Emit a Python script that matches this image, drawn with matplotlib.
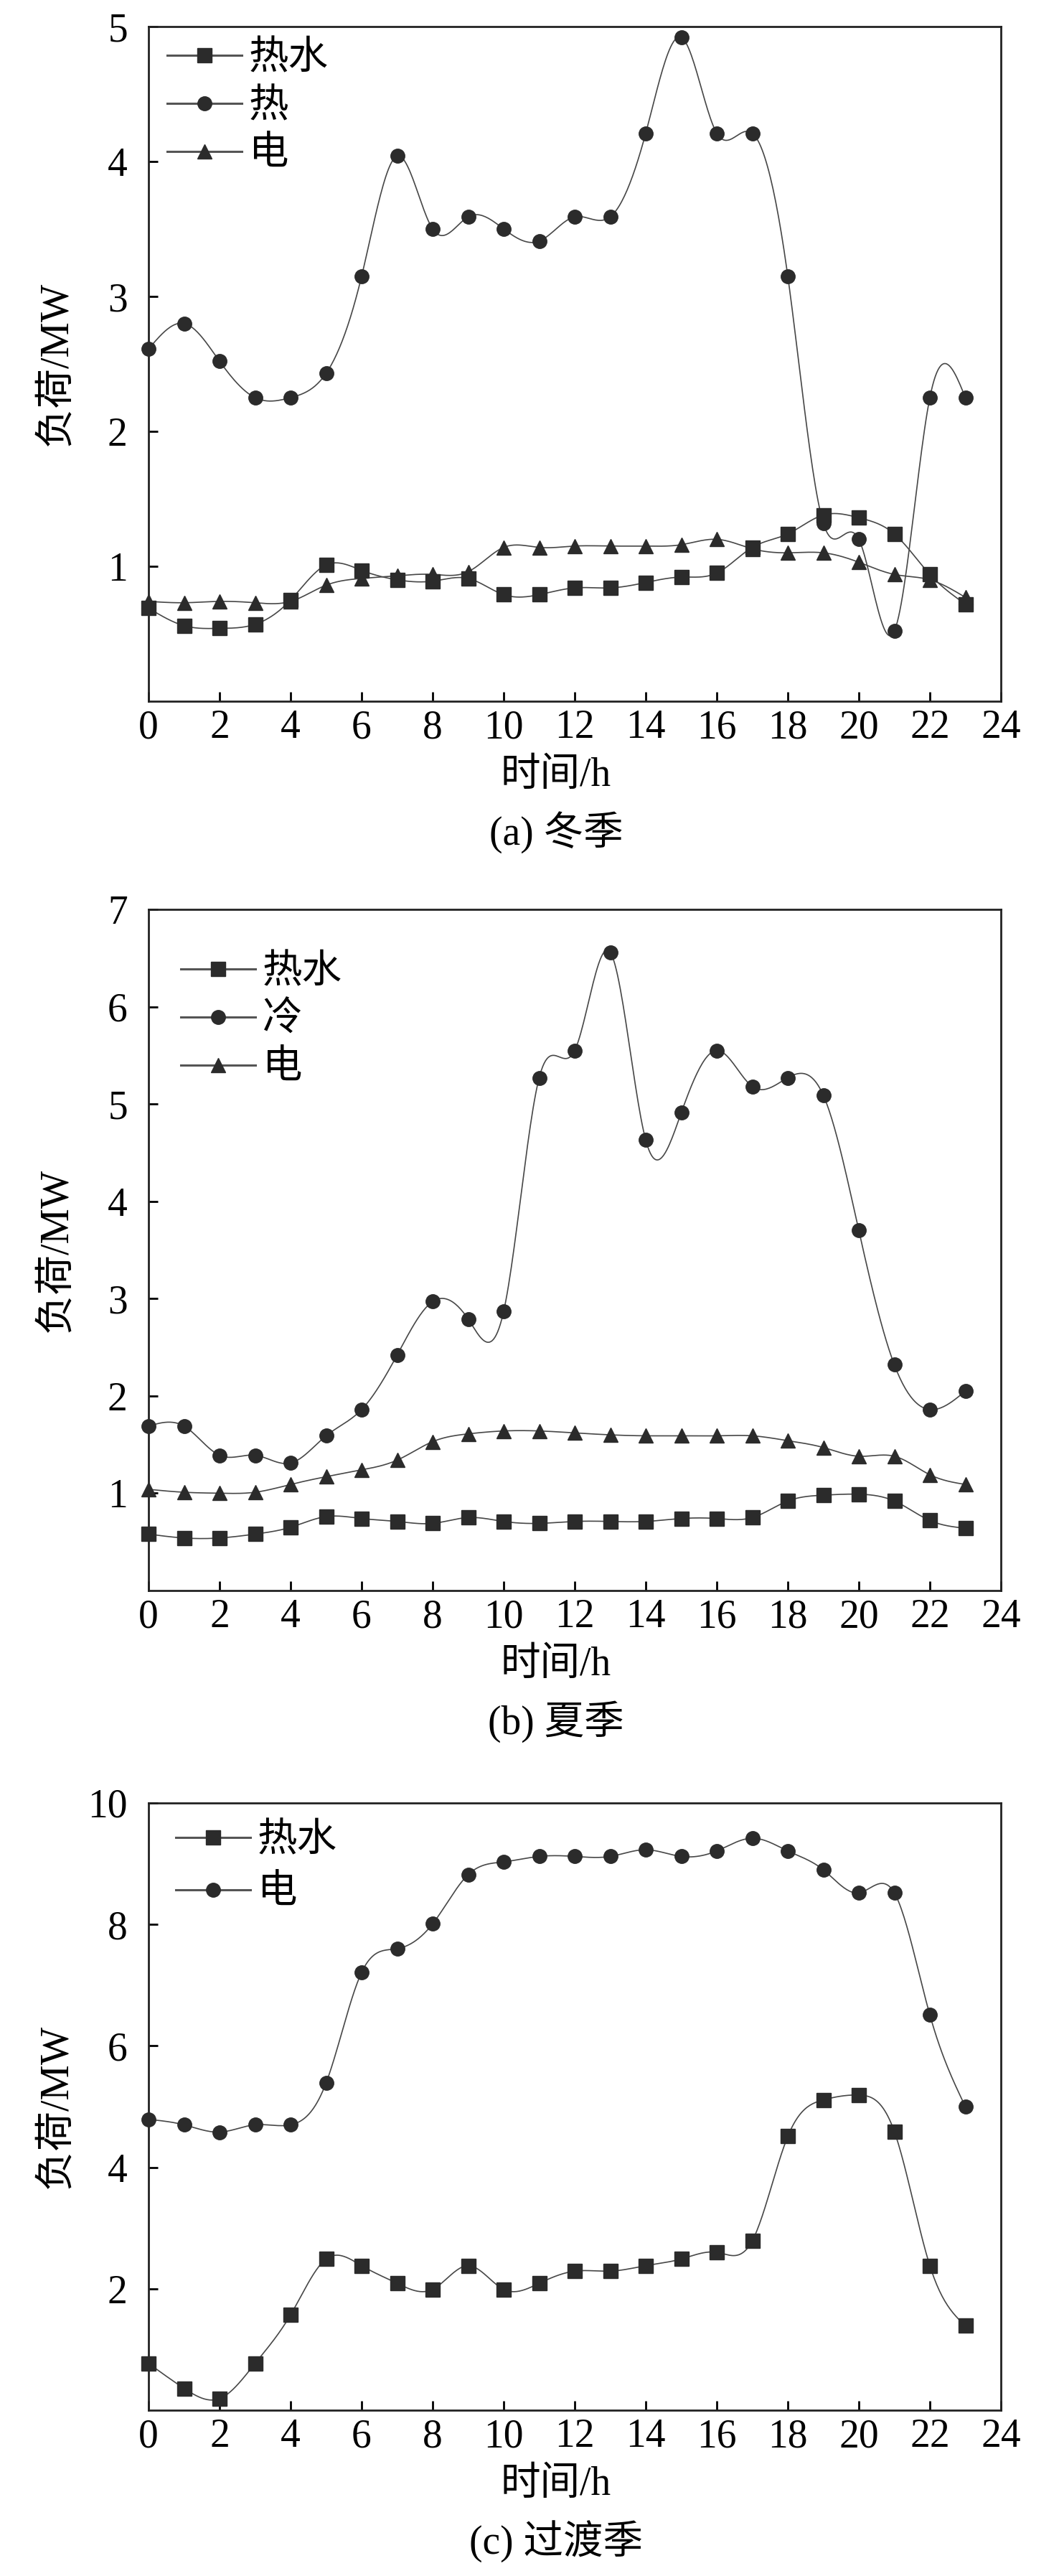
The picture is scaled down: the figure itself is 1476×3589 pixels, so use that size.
import numpy as np
import matplotlib
matplotlib.use('Agg')
import matplotlib.pyplot as plt
from matplotlib.lines import Line2D

plt.rcParams['font.family'] = ['Liberation Serif', 'Noto Sans CJK SC']

hours = list(range(24))

# (a) 冬季
win_hotwater = [0.69, 0.56, 0.54, 0.57, 0.75, 1.01, 0.97, 0.90, 0.89, 0.91, 0.79, 0.79,
                0.84, 0.84, 0.88, 0.92, 0.95, 1.14, 1.24, 1.38, 1.36, 1.24, 0.94, 0.72]
win_heat = [2.61, 2.80, 2.52, 2.25, 2.25, 2.43, 3.15, 4.04, 3.50, 3.59, 3.50, 3.41,
            3.59, 3.59, 4.21, 4.92, 4.21, 4.21, 3.15, 1.32, 1.20, 0.52, 2.25, 2.25]
win_elec = [0.74, 0.73, 0.74, 0.73, 0.74, 0.86, 0.91, 0.93, 0.94, 0.96, 1.14, 1.14,
            1.15, 1.15, 1.15, 1.16, 1.20, 1.13, 1.10, 1.10, 1.03, 0.94, 0.90, 0.77]

# (b) 夏季
sum_hotwater = [0.58, 0.54, 0.54, 0.58, 0.65, 0.76, 0.74, 0.71, 0.69, 0.75, 0.71, 0.69,
                0.71, 0.71, 0.71, 0.74, 0.74, 0.75, 0.92, 0.98, 0.99, 0.92, 0.72, 0.64]
sum_cool = [1.69, 1.69, 1.39, 1.39, 1.31, 1.59, 1.86, 2.42, 2.97, 2.79, 2.87, 5.27,
            5.55, 6.56, 4.63, 4.91, 5.55, 5.18, 5.27, 5.09, 3.70, 2.32, 1.86, 2.05]
sum_elec = [1.04, 1.01, 1.00, 1.01, 1.09, 1.17, 1.24, 1.34, 1.53, 1.61, 1.64, 1.64,
            1.62, 1.60, 1.59, 1.59, 1.59, 1.59, 1.54, 1.47, 1.38, 1.38, 1.19, 1.09]

# (c) 过渡季
tr_hotwater = [0.77, 0.36, 0.19, 0.77, 1.57, 2.49, 2.38, 2.09, 1.99, 2.38, 1.99, 2.09,
               2.29, 2.29, 2.38, 2.49, 2.60, 2.79, 4.51, 5.11, 5.19, 4.59, 2.38, 1.39]
tr_elec = [4.79, 4.70, 4.58, 4.70, 4.70, 5.39, 7.21, 7.60, 8.01, 8.82, 9.03, 9.12,
           9.12, 9.12, 9.23, 9.12, 9.21, 9.42, 9.21, 8.90, 8.52, 8.52, 6.51, 5.00]

xticks = list(range(0, 25, 2))


def spline(x, y, n=600):
    # natural cubic spline, like Origin's "Spline" connection
    x = np.asarray(x, float)
    y = np.asarray(y, float)
    h = np.diff(x)
    m = len(x)
    A = np.zeros((m, m))
    b = np.zeros(m)
    A[0, 0] = A[-1, -1] = 1
    for i in range(1, m - 1):
        A[i, i - 1] = h[i - 1]
        A[i, i] = 2 * (h[i - 1] + h[i])
        A[i, i + 1] = h[i]
        b[i] = 6 * ((y[i + 1] - y[i]) / h[i] - (y[i] - y[i - 1]) / h[i - 1])
    M = np.linalg.solve(A, b)
    xs = np.linspace(x[0], x[-1], n)
    k = np.clip(np.searchsorted(x, xs) - 1, 0, m - 2)
    hh = x[k + 1] - x[k]
    t0 = x[k + 1] - xs
    t1 = xs - x[k]
    ys = ((M[k] * t0 ** 3 + M[k + 1] * t1 ** 3) / (6 * hh)
          + (y[k] / hh - M[k] * hh / 6) * t0
          + (y[k + 1] / hh - M[k + 1] * hh / 6) * t1)
    return xs, ys


line_c = '#474747'
mark_c = '#2b2b2b'

W, H = 1476, 3589
fig = plt.figure(figsize=(W / 100, H / 100), dpi=100)


def panel(top, bottom, ymax, yticks, series, caption, leg_x, leg_top, leg_sp):
    ax = fig.add_axes([207 / W, 1 - bottom / H, 1188 / W, (bottom - top) / H])
    handles = []
    for vals, marker, label in series:
        xs, ys = spline(hours, vals)
        ax.plot(xs, ys, color=line_c, lw=1.2, zorder=2)
        ax.plot(hours, vals, ls='none', marker=marker, ms=14, color=mark_c,
                clip_on=False, zorder=3)
        handles.append(Line2D([], [], color='#555555', lw=2.2, marker=marker,
                              ms=14, mfc=mark_c, mec=mark_c, label=label))
    ax.set_xlim(0, 24)
    ax.set_ylim(0, ymax)
    ax.set_xticks(xticks)
    ax.set_yticks(yticks)
    ax.tick_params(direction='in', length=9.5, width=2, labelsize=40,
                   top=False, right=False)
    ax.tick_params(axis='x', pad=8)
    ax.tick_params(axis='y', pad=21)
    for s in ax.spines.values():
        s.set_linewidth(2)
        s.set_color('#222222')

    hgt = bottom - top
    cx = (775 - 207) / 1188
    ax.set_xlabel('时间/h', fontsize=40, va='center')
    ax.xaxis.set_label_coords(cx, -104 / hgt)
    ax.set_ylabel('负荷/MW', fontsize=40, va='center', ha='center')
    ax.yaxis.set_label_coords(-128 / 1188, 0.5)
    ax.text(cx, -183 / hgt, caption, transform=ax.transAxes, fontsize=40,
            ha='center', va='center')

    ax.legend(handles=handles, loc='upper left',
              bbox_to_anchor=(leg_x / 1188, 1 - leg_top / hgt),
              frameon=False, fontsize=40, handlelength=1.87,
              handletextpad=0.18, labelspacing=leg_sp, borderpad=0,
              borderaxespad=0)
    return ax


panel(37, 977, 5, [1, 2, 3, 4, 5],
      [(win_hotwater, 's', '热水'), (win_heat, 'o', '热'), (win_elec, '^', '电')],
      '(a) 冬季', 26, 19, 0.27)
panel(1267, 2216, 7, [1, 2, 3, 4, 5, 6, 7],
      [(sum_hotwater, 's', '热水'), (sum_cool, 'o', '冷'), (sum_elec, '^', '电')],
      '(b) 夏季', 45, 62, 0.27)
panel(2512, 3358, 10, [2, 4, 6, 8, 10],
      [(tr_hotwater, 's', '热水'), (tr_elec, 'o', '电')],
      '(c) 过渡季', 38, 27, 0.38)

fig.savefig('out.png', dpi=100)
